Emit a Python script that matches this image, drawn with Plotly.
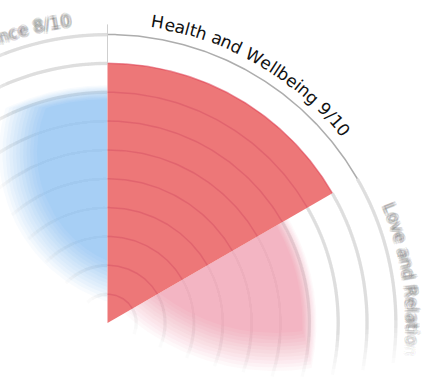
import numpy as np
import plotly.graph_objects as go

# ---------------- data ----------------
categories = ["Health and Wellbeing", "Love and Relationships", "Career and Work",
              "Personal Growth", "Fun and Recreation", "Wealth and Abundance"]
scores = [9, 7, 6, 7, 5, 8]
max_score = 10
grid_levels = [1, 2, 3, 4, 5, 6, 7, 8, 9, 10]
colors = ["#ED7778", "#F3B5C3", "#F7CB8F", "#A9DDB8", "#C7B5EE", "#A7CFF5"]
focus_index = 0

# ---------------- layout / style constants ----------------
W, H = 426, 378
PX = 28.85                 # pixels per score unit
CX, CY = 107.5, 323.0      # wheel centre in page pixels
START = 90.0
SEG = 360.0 / len(categories)
x_range = [-CX / PX, (W - CX) / PX]
y_range = [-(H - CY) / PX, CY / PX]
SIGMA = 7.0 / PX
FS = 17
BASE_R_PX = 299.0
BACK_R = 10.35


def make_mask(cx, cy, r_full, r_zero):
    return (np.array([(cx - CX) / PX, (CY - cy) / PX]), r_full / PX, r_zero / PX)

# soft "depth of field" masks (page pixel centre, full radius, zero radius)
MASK_LEFT = make_mask(155, 153, 118, 156)
MASK_RIGHT = make_mask(275, 145, 188, 226)
MASK_BG = make_mask(300, 40, 298, 338)
seg_masks = [None, MASK_RIGHT, MASK_RIGHT, MASK_RIGHT, MASK_LEFT, MASK_LEFT]

CHAR_W = {' ': .318, 'A': .684, 'B': .686, 'C': .698, 'H': .752, 'L': .557, 'M': .863,
          'R': .695, 'W': .989, 'F': .575, 'P': .603, 'G': .775, 'E': .632, 'N': .748,
          'a': .613, 'b': .635, 'c': .550, 'd': .635, 'e': .615, 'g': .635, 'h': .634,
          'i': .278, 'l': .278, 'n': .634, 'o': .612, 'p': .635, 'r': .411, 's': .521,
          't': .392, 'u': .634, 'v': .592, 'w': .818, 'y': .592, 'k': .579, 'm': .974,
          'f': .352, '/': .337, '-': .361}
for d in '0123456789':
    CHAR_W[d] = .636


def hex_rgb(h):
    h = h.lstrip('#')
    return tuple(int(h[i:i + 2], 16) for i in (0, 2, 4))


def fade(mask, x, y):
    c, rf, rz = mask
    d = np.hypot(x - c[0], y - c[1])
    return float(np.clip((rz - d) / (rz - rf), 0, 1))


def masked_wedge(R, a0, a1, c, rho, n=240):
    xo, yo, xi, yi = [], [], [], []
    for t in np.radians(np.linspace(a0, a1, n)):
        u = np.array([np.cos(t), np.sin(t)])
        b = u @ c
        disc = b * b - c @ c + rho * rho
        if disc <= 0:
            continue
        s = np.sqrt(disc)
        lo, hi = max(0.0, b - s), min(R, b + s)
        if hi <= lo:
            continue
        xo.append(hi * u[0]); yo.append(hi * u[1])
        xi.append(lo * u[0]); yi.append(lo * u[1])
    if len(xo) < 2:
        return None
    return xo + xi[::-1] + [xo[0]], yo + yi[::-1] + [yo[0]]


def arc(r, a0, a1, n=160):
    t = np.radians(np.linspace(a0, a1, n))
    return r * np.cos(t), r * np.sin(t)


fig = go.Figure()

def add_poly(x, y, fill):
    fig.add_trace(go.Scatter(x=x, y=y, mode='lines', fill='toself', fillcolor=fill,
                             line=dict(width=0), hoverinfo='skip', showlegend=False))

def add_line(x, y, color, width):
    fig.add_trace(go.Scatter(x=x, y=y, mode='lines', line=dict(color=color, width=width),
                             hoverinfo='skip', showlegend=False))

th = np.radians(np.arange(-180, 180.25, 0.5))

def blurred_grid(cmax, width, n_layers=8):
    c0, rf, rz = MASK_BG
    prev = 0.0
    for j in range(1, n_layers + 1):
        t = (j - 1) / (n_layers - 1)
        rho = rz - (rz - rf) * t
        c = cmax * j / n_layers
        a = (c - prev) / (1 - prev)
        prev = c
        xs, ys = [], []
        for r in grid_levels:
            px_ = r * np.cos(th)
            py_ = r * np.sin(th)
            inside = (px_ - c0[0]) ** 2 + (py_ - c0[1]) ** 2 < rho ** 2
            run = False
            for xx, yy, ok in zip(px_, py_, inside):
                if ok:
                    xs.append(xx); ys.append(yy); run = True
                elif run:
                    xs.append(None); ys.append(None); run = False
            xs.append(None); ys.append(None)
        add_line(xs, ys, f'rgba(60,60,60,{a:.4f})', width)

# ---------- blurred grid under the segments ----------
blurred_grid(0.13, 3.5)

# ---------- blurred (unfocused) segments ----------
K = 12
for i, (cat, val, col) in enumerate(zip(categories, scores, colors)):
    if i == focus_index:
        continue
    c0, rf, rz = seg_masks[i]
    a_hi = START - i * SEG
    a_lo = a_hi - SEG
    r_, g_, b_ = hex_rgb(col)
    for j in range(1, K + 1):
        t = (j - 1) / (K - 1)
        R = val + SIGMA * (1 - 2 * t)
        rho = rz - (rz - rf) * t
        poly = masked_wedge(R, a_lo, a_hi, c0, rho)
        if poly is None:
            continue
        alpha = 1.0 / (K - j + 1)
        add_poly(poly[0], poly[1], f'rgba({r_},{g_},{b_},{alpha:.3f})')

# faint grid showing through the blurred segments
blurred_grid(0.025, 3.5, 6)

# ---------- focused segment ----------
f_hi = START - focus_index * SEG
f_lo = f_hi - SEG
bx, by = arc(BACK_R, f_lo, f_hi)
add_poly(np.concatenate([[0], bx, [0]]), np.concatenate([[0], by, [0]]), 'white')

fv = scores[focus_index]
wx, wy = arc(fv, f_lo, f_hi)
add_poly(np.concatenate([[0], wx, [0]]), np.concatenate([[0], wy, [0]]), colors[focus_index])

gx, gy = [], []
for r in grid_levels:
    if r < fv:
        ax_, ay_ = arc(r, f_lo, f_hi, 80)
        gx += list(ax_) + [None]; gy += list(ay_) + [None]
add_line(gx, gy, 'rgba(195,55,85,0.28)', 1.5)

ox, oy = arc(fv, f_lo, f_hi)
add_line(ox, oy, 'rgba(220,60,80,0.55)', 1.5)

mx, my = arc(max_score, f_lo, f_hi)
add_line(mx, my, '#ADADAD', 1.5)
ra = np.radians(f_hi)
add_line([fv * np.cos(ra), BACK_R * np.cos(ra)], [fv * np.sin(ra), BACK_R * np.sin(ra)], '#CFCFCF', 1)

# ---------- curved labels ----------
annotations = []

def label_chars(text, mid_deg):
    widths = [CHAR_W.get(ch, 0.6) * FS for ch in text]
    total = sum(widths)
    start = np.radians(mid_deg) + total / 2 / BASE_R_PX
    cum = 0.0
    out = []
    for ch, w in zip(text, widths):
        ang = start - (cum + w / 2) / BASE_R_PX
        cum += w
        out.append((ch, ang))
    return out

BLUR_OFFS = [(0, 0), (1.8, 0), (-1.8, 0), (0, 1.8), (0, -1.8),
             (1.3, 1.3), (-1.3, 1.3), (1.3, -1.3), (-1.3, -1.3)]
rc = (BASE_R_PX + 0.346 * FS) / PX
for i, (cat, val) in enumerate(zip(categories, scores)):
    mid = START - i * SEG - SEG / 2
    text = f"{cat} {val}/{max_score}"
    for ch, ang in label_chars(text, mid):
        if ch == ' ':
            continue
        x = rc * np.cos(ang)
        y = rc * np.sin(ang)
        if not (x_range[0] - 0.3 < x < x_range[1] + 0.3 and y_range[0] - 0.3 < y < y_range[1] + 0.3):
            continue
        tang = 90 - np.degrees(ang)
        if i == focus_index:
            annotations.append(dict(x=x, y=y, xref='x', yref='y', text=ch, showarrow=False,
                                    xanchor='center', yanchor='middle', textangle=tang,
                                    font=dict(family='DejaVu Sans', size=FS, color='#111111')))
        else:
            f = min(1.0, fade(MASK_BG, x, y) * 1.4)
            if f <= 0:
                continue
            for dx, dy in BLUR_OFFS:
                annotations.append(dict(x=x, y=y, xref='x', yref='y', text=ch, showarrow=False,
                                        xanchor='center', yanchor='middle', textangle=tang,
                                        xshift=dx, yshift=dy,
                                        font=dict(family='DejaVu Sans', size=FS,
                                                  color=f'rgba(70,70,70,{0.12 * f:.3f})')))

fig.update_layout(
    width=W, height=H, margin=dict(l=0, r=0, t=0, b=0),
    paper_bgcolor='white', plot_bgcolor='white', showlegend=False,
    xaxis=dict(range=x_range, visible=False, fixedrange=True),
    yaxis=dict(range=y_range, visible=False, fixedrange=True),
    annotations=annotations,
)

fig.write_html("out.html", config={'displayModeBar': False},
               post_script="document.body.style.margin='0';document.body.style.overflow='hidden';")
